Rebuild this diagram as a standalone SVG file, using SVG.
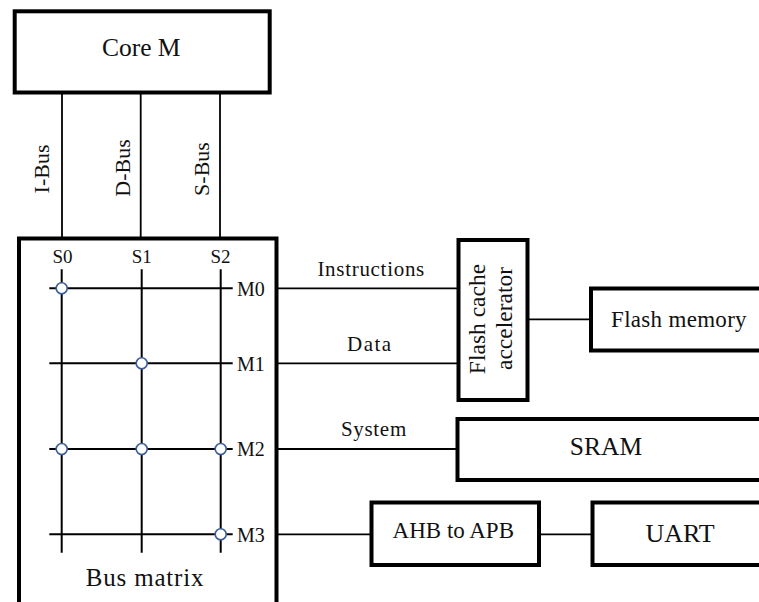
<svg xmlns="http://www.w3.org/2000/svg" width="759" height="602" viewBox="0 0 759 602">
<style>
  .box { fill: #ffffff; stroke: #000000; stroke-width: 4; }
  .ln { fill: none; stroke: #000000; stroke-width: 1.8; }
  .grid { fill: none; stroke: #000000; stroke-width: 2; }
  .dot { fill: #ffffff; stroke: #3c5d9c; stroke-width: 1.6; }
  text { font-family: "Liberation Serif", "Times New Roman", serif; fill: #111111; }
  .big { font-size: 25.5px; text-anchor: middle; }
  .mid { font-size: 23px; text-anchor: middle; }
  .rot { font-size: 23.5px; text-anchor: middle; }
  .lab { font-size: 21px; text-anchor: middle; letter-spacing: 0.7px; }
  .bus { font-size: 22px; text-anchor: middle; }
  .port { font-size: 19px; text-anchor: middle; }
  .mport { font-size: 20px; text-anchor: start; }
</style>
<rect width="759" height="602" fill="#ffffff"/>

<g id="connectors">
  <line class="ln" x1="62" y1="94" x2="62" y2="237"/>
  <line class="ln" x1="140.7" y1="94" x2="140.7" y2="237"/>
  <line class="ln" x1="220" y1="94" x2="220" y2="237"/>
  <line class="ln" x1="270.5" y1="288.3" x2="457" y2="288.3"/>
  <line class="ln" x1="270.5" y1="363.3" x2="457" y2="363.3"/>
  <line class="ln" x1="270.5" y1="449" x2="457" y2="449"/>
  <line class="ln" x1="270.5" y1="534.3" x2="371" y2="534.3"/>
  <line class="ln" x1="529" y1="319.3" x2="590" y2="319.3"/>
  <line class="ln" x1="540" y1="534.3" x2="591" y2="534.3"/>
  <text class="bus" transform="translate(48.5,169) rotate(-90)">I-Bus</text>
  <text class="bus" transform="translate(130,168) rotate(-90)">D-Bus</text>
  <text class="bus" transform="translate(208.5,169) rotate(-90)">S-Bus</text>
  <text class="lab" x="371.2" y="275.7">Instructions</text>
  <text class="lab" x="369.8" y="350.7" style="letter-spacing:1.5px">Data</text>
  <text class="lab" x="373.9" y="436">System</text>
</g>

<g id="core-m">
  <rect class="box" x="14.7" y="11.3" width="255" height="81.2"/>
  <text class="big" x="141.2" y="56">Core M</text>
</g>

<g id="bus-matrix">
  <rect class="box" x="19" y="238.5" width="257.5" height="380"/>
  <line class="grid" x1="61.7" y1="269.3" x2="61.7" y2="552.7"/>
  <line class="grid" x1="141.7" y1="269.3" x2="141.7" y2="552.7"/>
  <line class="grid" x1="220.7" y1="269.3" x2="220.7" y2="552.7"/>
  <line class="grid" x1="49.3" y1="288.3" x2="232.7" y2="288.3"/>
  <line class="grid" x1="49.3" y1="363.3" x2="232.7" y2="363.3"/>
  <line class="grid" x1="49.3" y1="449" x2="232.7" y2="449"/>
  <line class="grid" x1="49.3" y1="534.3" x2="232.7" y2="534.3"/>
  <circle class="dot" cx="61.7" cy="288.3" r="5.5"/>
  <circle class="dot" cx="141.7" cy="363.3" r="5.5"/>
  <circle class="dot" cx="61.7" cy="449" r="5.5"/>
  <circle class="dot" cx="141.7" cy="449" r="5.5"/>
  <circle class="dot" cx="220.7" cy="449" r="5.5"/>
  <circle class="dot" cx="220.7" cy="534.3" r="5.5"/>
  <text class="port" x="62.5" y="262.7">S0</text>
  <text class="port" x="141.7" y="262.7">S1</text>
  <text class="port" x="220.5" y="262.7">S2</text>
  <text class="mport" x="237" y="295.5">M0</text>
  <text class="mport" x="237" y="370.5">M1</text>
  <text class="mport" x="237" y="456">M2</text>
  <text class="mport" x="237" y="541.5">M3</text>
  <text x="145" y="586" style="font-size:25px;text-anchor:middle;letter-spacing:0.8px">Bus matrix</text>
</g>

<g id="flash-cache">
  <rect class="box" x="458.5" y="240" width="69" height="160"/>
  <text class="rot" transform="translate(485,319) rotate(-90)">Flash cache</text>
  <text class="rot" transform="translate(511.7,318.5) rotate(-90)">accelerator</text>
</g>

<g id="flash-memory">
  <rect class="box" x="591" y="288.5" width="220" height="62"/>
  <text class="mid" x="679" y="326.5" style="letter-spacing:0.3px">Flash memory</text>
</g>

<g id="sram">
  <rect class="box" x="457.5" y="419" width="360" height="61"/>
  <text class="big" x="606" y="455">SRAM</text>
</g>

<g id="ahb-apb">
  <rect class="box" x="371.5" y="502.5" width="167.5" height="62.5"/>
  <text class="mid" x="453.3" y="538.3">AHB to APB</text>
</g>

<g id="uart">
  <rect class="box" x="592.5" y="502.5" width="220" height="62.5"/>
  <text class="big" x="680" y="541.7" style="font-size:26px">UART</text>
</g>
</svg>
